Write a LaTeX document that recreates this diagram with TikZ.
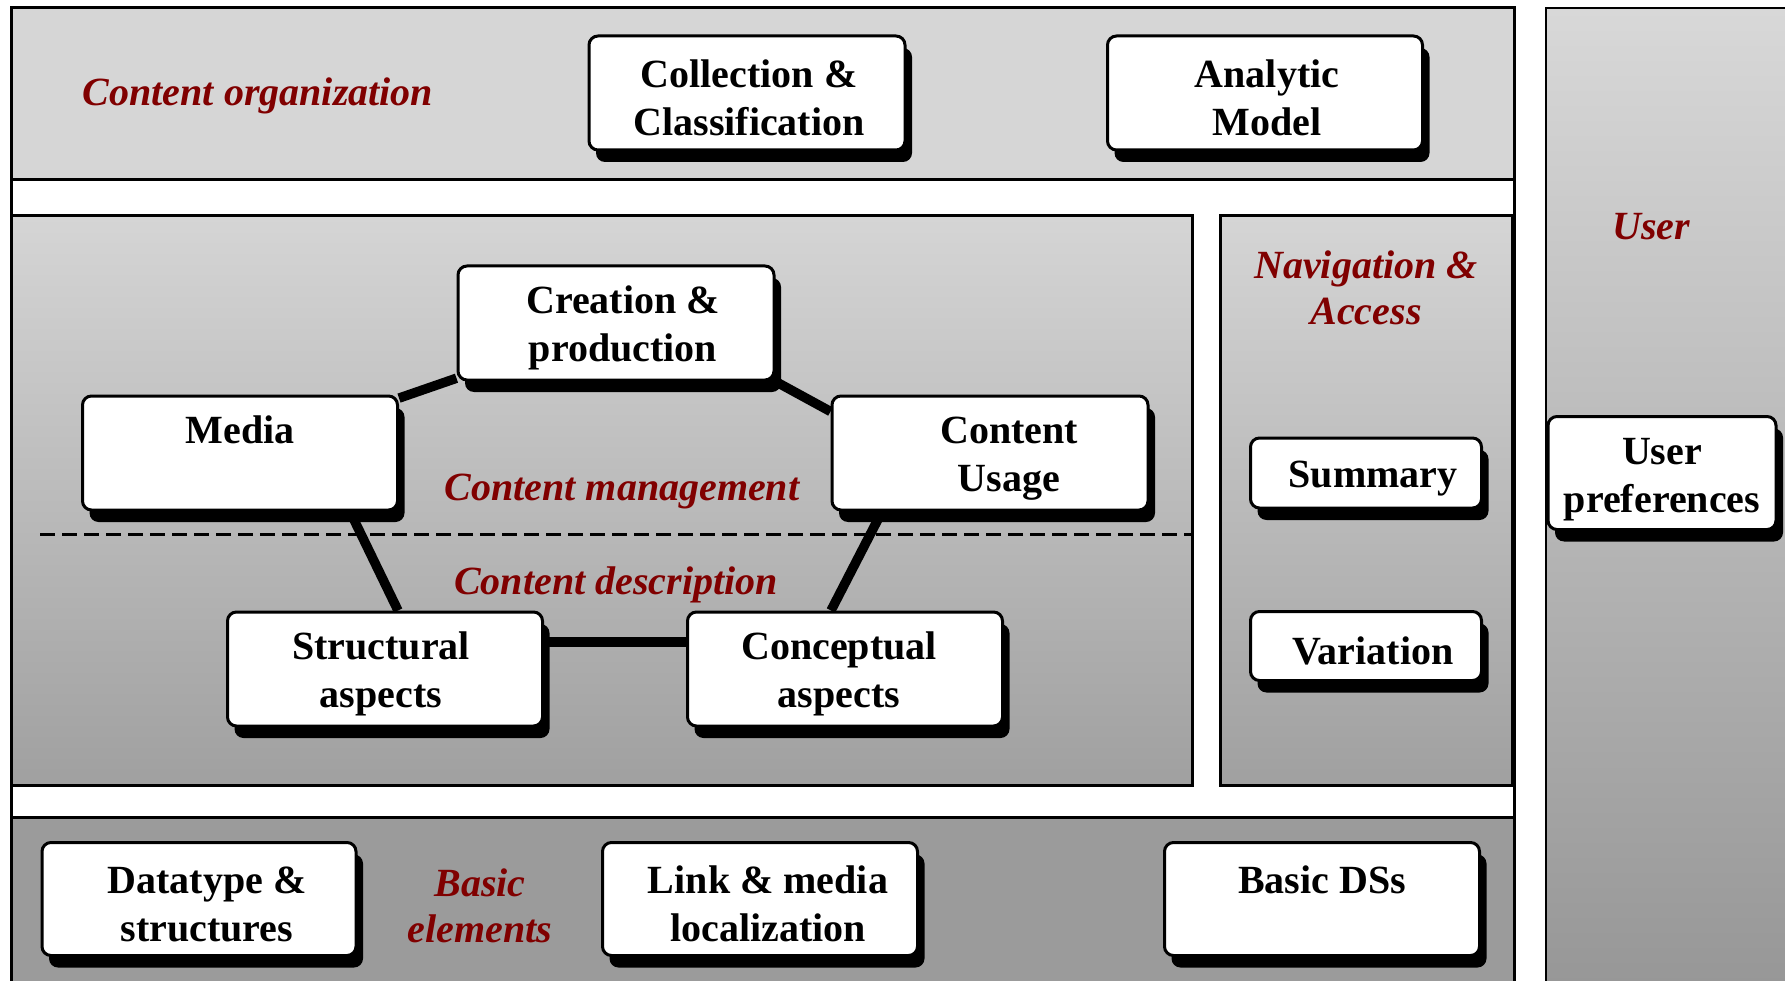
\documentclass[tikz,border=0pt]{standalone}
\usepackage{fontspec}
\setmainfont{Liberation Serif}
\usetikzlibrary{shadows,calc}
\pgfdeclarelayer{bg}
\pgfdeclarelayer{lines}
\pgfsetlayers{bg,lines,main}
\definecolor{lblred}{RGB}{128,0,0}
\definecolor{topgray}{RGB}{214,214,214}
\definecolor{midtop}{RGB}{213,213,213}
\definecolor{midbot}{RGB}{160,160,160}
\definecolor{botgray}{RGB}{155,155,155}
\definecolor{usertop}{RGB}{216,216,216}
\definecolor{userbot}{RGB}{150,150,150}
\newcommand\tup{\rule{0pt}{37pt}}
\newcommand\hs[1]{\hspace*{#1}}
\begin{document}
\begin{tikzpicture}[x=1pt,y=-1pt,
  box/.style={draw=black, line width=3pt, fill=white, rounded corners=9pt, align=center,
    font=\fontsize{40}{48}\selectfont\bfseries, inner sep=0pt,
    drop shadow={shadow xshift=7pt, shadow yshift=-12pt, fill=black, opacity=1}},
  lbl/.style={text=lblred, font=\fontsize{40}{46}\selectfont\bfseries\itshape, align=center},
  panel/.style={draw=black, line width=3pt},
  conn/.style={line width=9.5pt}]
\useasboundingbox (0,0) rectangle (1785,981);
\clip (0,0) rectangle (1785,981);
\begin{pgfonlayer}{bg}
\fill[white] (0,0) rectangle (1785,981);
% panels
\draw[panel, fill=white] (11,8) rectangle (1514,1000);
\draw[panel, fill=topgray] (11,8) rectangle (1514,180);
\draw[panel, top color=midtop, bottom color=midbot] (11,216) rectangle (1192,785);
\draw[panel, top color=midtop, bottom color=midbot] (1220,216) rectangle (1512,785);
\draw[panel, fill=botgray] (11,817) rectangle (1514,1000);
\draw[draw=black, line width=2pt, top color=usertop, bottom color=userbot] (1546,8) rectangle (1800,1000);
% dashed separator
\draw[line width=3pt, dash pattern=on 15pt off 7pt] (40,534) -- (1192,534);
\end{pgfonlayer}
% labels
\node[lbl] (lorg) at (258,96) {Content organization};
\node[lbl] (lnav) at (1366,288) {Navigation \&\\Access};
\node[lbl] (luser) at (1651,227) {User};
\node[lbl] (lman) at (622,492) {Content management};
\node[lbl] (ldesc) at (616,585) {Content description};
\node[lbl] (lbasic) at (480,906) {Basic\\elements};
% boxes
\node[box, minimum width=316pt, minimum height=114pt] (coll) at (747,93) {\tup\hs{4pt}Collection \&\\\hs{4pt}Classification};
\node[box, minimum width=315pt, minimum height=114pt] (anal) at (1265,93) {\tup\hs{4pt}Analytic\\\hs{4pt}Model};
\node[box, minimum width=316pt, minimum height=114pt] (crea) at (616,323) {\tup\hs{14pt}Creation \&\\\hs{14pt}production};
\node[box, minimum width=315pt, minimum height=114pt] (media) at (240,453) {\tup Media\\\phantom{Usage}};
\node[box, minimum width=316pt, minimum height=114pt] (usage) at (990,453) {\tup\hs{38pt}Content\\\hs{38pt}Usage};
\node[box, minimum width=315pt, minimum height=114pt] (struct) at (385,669) {\tup Structural\hs{8pt}\\aspects\hs{8pt}};
\node[box, minimum width=315pt, minimum height=114pt] (concept) at (845,669) {\tup Conceptual\hs{12pt}\\aspects\hs{12pt}};
\node[box, minimum width=231pt, minimum height=70pt] (summ) at (1366,473) {\tup\hs{14pt}Summary};
\node[box, minimum width=231pt, minimum height=69pt] (vari) at (1366,646) {\tup\hs{14pt}Variation};
\node[box, minimum width=228pt, minimum height=113pt] (upref) at (1662,473) {\rule{0pt}{39pt}User\\preferences};
\node[box, minimum width=314pt, minimum height=113pt] (dtype) at (199,899) {\tup\hs{16pt}Datatype \&\\\hs{16pt}structures};
\node[box, minimum width=315pt, minimum height=113pt] (link) at (760,899) {\tup\hs{16pt}Link \& media\\\hs{16pt}localization};
\node[box, minimum width=315pt, minimum height=113pt] (bds) at (1322,899) {\tup Basic DSs\\\phantom{structures}};
% connectors
\begin{pgfonlayer}{lines}
\draw[conn] (crea) -- (media);
\draw[conn] (crea.south east) -- ($(usage.north west)+(0,17)$);
\draw[conn] ($(media.south)+(110,0)$) -- ($(struct.north)+(13,0)$);
\draw[conn] ($(usage.south)+(-108,0)$) -- ($(concept.north)+(-14,0)$);
\draw[conn] ($(struct.east)+(0,-27)$) -- ($(concept.west)+(0,-27)$);
\end{pgfonlayer}
\end{tikzpicture}
\end{document}
